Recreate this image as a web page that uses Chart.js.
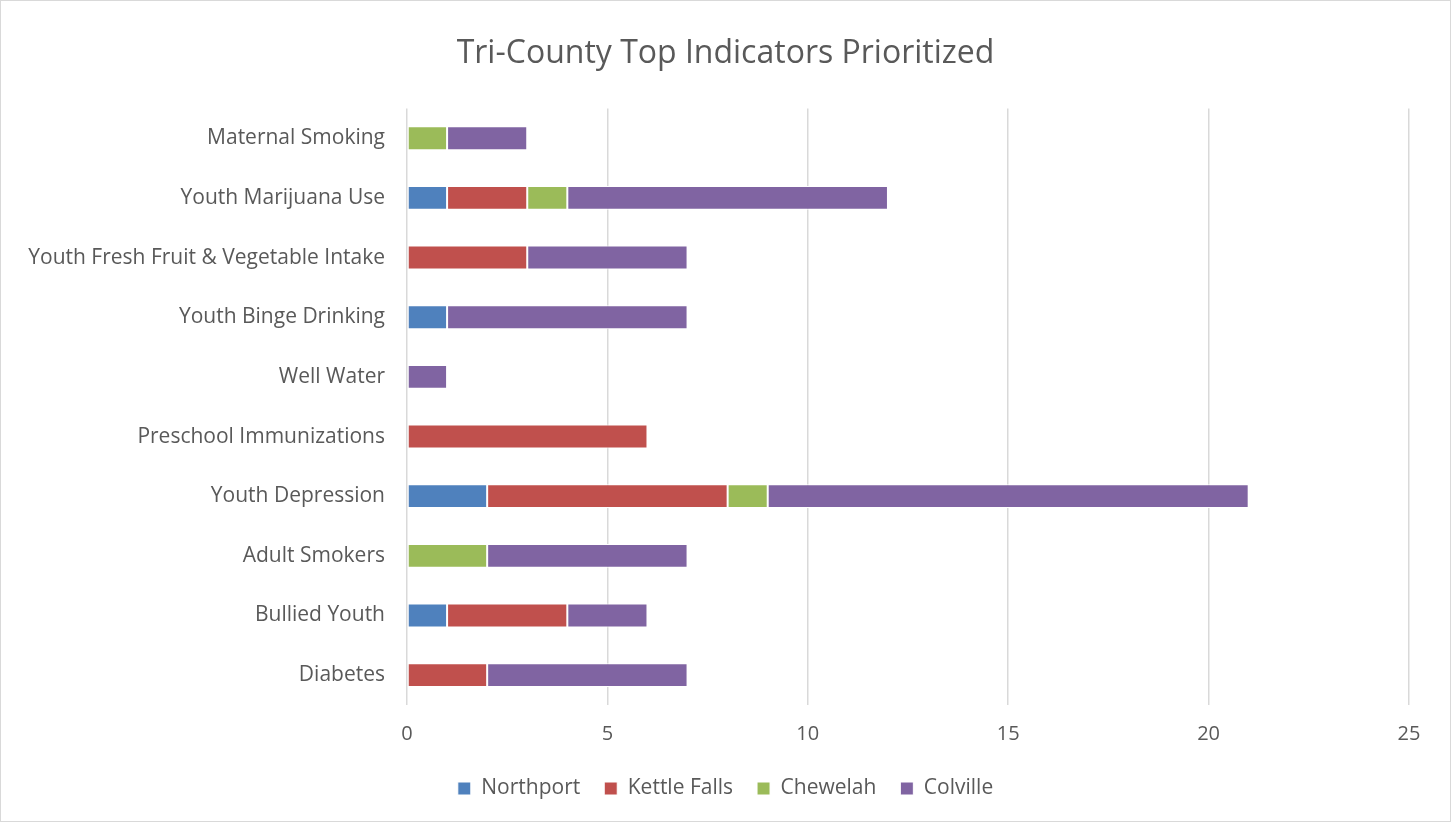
<!DOCTYPE html>
<html>
<head>
<meta charset="utf-8">
<script src="https://cdn.jsdelivr.net/npm/chart.js@4"></script>
<style>
  body { margin: 0; background: #fff; }
  #box { position: absolute; left: 0; top: 0; width: 1449px; height: 820px; border: 1px solid #d9d9d9; }
</style>
</head>
<body>
<div id="box"><canvas id="grafico" width="1449" height="820"></canvas></div>
<script>
// Datos
const categorias = [
  "Maternal Smoking",
  "Youth Marijuana Use",
  "Youth Fresh Fruit & Vegetable Intake",
  "Youth Binge Drinking",
  "Well Water",
  "Preschool Immunizations",
  "Youth Depression",
  "Adult Smokers",
  "Bullied Youth",
  "Diabetes",
];
const northport   = [0, 1, 0, 1, 0, 0, 2, 0, 1, 0];
const kettleFalls = [0, 2, 3, 0, 0, 6, 6, 0, 3, 2];
const chewelah    = [1, 1, 0, 0, 0, 0, 1, 2, 0, 0];
const colville    = [2, 8, 4, 6, 1, 0, 12, 5, 2, 5];

const gris = "#595959";
const fuente = "'Open Sans', Lato, sans-serif";

function serie(label, data, color) {
  return {
    label: label,
    data: data,
    backgroundColor: color,
    borderColor: "#ffffff",
    borderWidth: 1,
    borderSkipped: false,
    barPercentage: 0.4,
    categoryPercentage: 1,
  };
}

let ctx = document.getElementById("grafico").getContext("2d");
let graf = new Chart(ctx, {
  type: "bar",
  data: {
    labels: categorias,
    datasets: [
      serie("Northport", northport, "#4f81bd"),
      serie("Kettle Falls", kettleFalls, "#c0504d"),
      serie("Chewelah", chewelah, "#9bbb59"),
      serie("Colville", colville, "#8064a2"),
    ],
  },
  options: {
    indexAxis: "y",
    responsive: false,
    animation: false,
    layout: { padding: { left: 0, right: 0, top: 0, bottom: 12 } },
    scales: {
      x: {
        stacked: true,
        min: 0,
        max: 25,
        ticks: { stepSize: 5, color: gris, font: { family: fuente, size: 20 }, padding: 17 },
        grid: { color: "#d9d9d9", lineWidth: 1.5, drawTicks: false },
        border: { display: false },
        afterFit: function (scale) { scale.height = 49; },
      },
      y: {
        stacked: true,
        ticks: { color: gris, font: { family: fuente, size: 21 }, padding: 22 },
        grid: { display: false, drawTicks: false },
        border: { display: false },
        afterFit: function (scale) { scale.width = 406; },
      },
      // eje vacío a la derecha, solo para reservar margen
      y2: {
        type: "category",
        position: "right",
        ticks: { display: false },
        grid: { display: false, drawTicks: false },
        border: { display: false },
        afterFit: function (scale) { scale.width = 41; },
      },
    },
    plugins: {
      title: {
        display: true,
        text: "Tri-County Top Indicators Prioritized",
        color: gris,
        font: { family: fuente, size: 32, weight: "normal" },
        padding: { top: 34, bottom: 35 },
      },
      legend: {
        position: "bottom",
        align: "center",
        labels: {
          color: gris,
          font: { family: fuente, size: 21 },
          boxWidth: 13,
          boxHeight: 13,
          padding: 24,
        },
      },
      tooltip: { enabled: false },
    },
  },
});
</script>
</body>
</html>
